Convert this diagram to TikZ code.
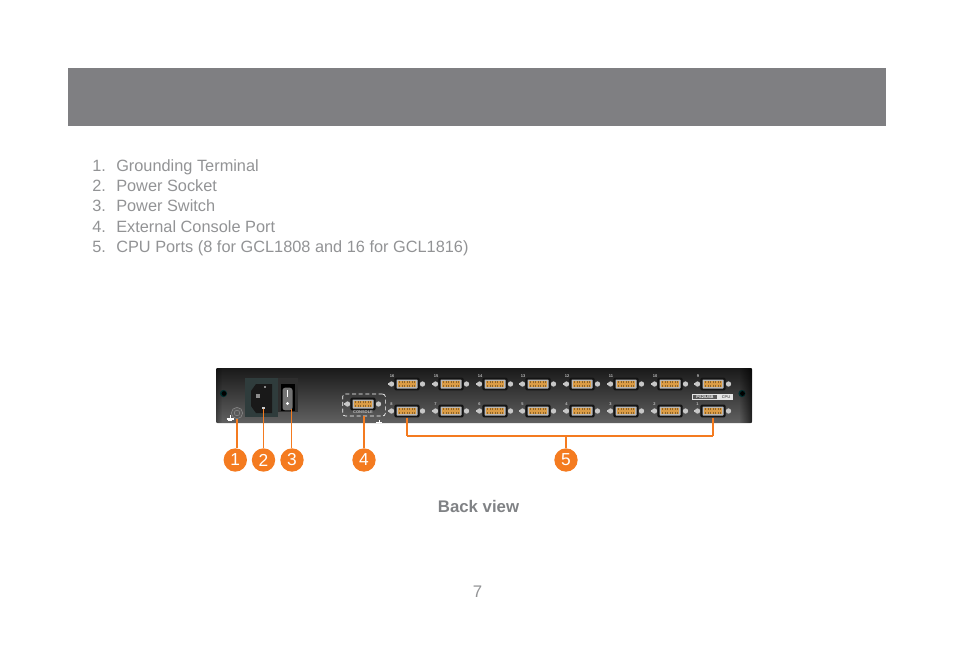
\documentclass[tikz,border=0pt]{standalone}
\usepackage{fontspec}
\setmainfont{Liberation Sans}
\usetikzlibrary{calc}

\definecolor{bandgray}{HTML}{7F7F82}
\definecolor{textgray}{HTML}{929395}
\definecolor{captiongray}{HTML}{808285}
\definecolor{calloutorange}{HTML}{F47B20}
\definecolor{pinorange}{HTML}{DB9C45}
\definecolor{pindark}{HTML}{8E6428}
\definecolor{sockettea}{HTML}{2F3C3C}

\tikzset{
	listitem/.style={anchor=base west, inner sep=0pt, text=textgray, font=\fontsize{12.25}{14}\selectfont},
	callout/.style={circle, fill=calloutorange, minimum size=17.5pt, inner sep=0pt, text=white, font=\fontsize{13}{14}\selectfont},
	thickline/.style={calloutorange, line width=1.4pt},
	thinline/.style={calloutorange, line width=0.8pt},
	portbody/.style={rectangle, rounded corners=1pt, fill=black!92, minimum width=19pt, minimum height=9.5pt, inner sep=0pt},
	tinylabel/.style={inner sep=0pt, text=white!75!black, font=\fontsize{3}{3}\selectfont\bfseries},
	screwlight/.style={circle, fill=black!22, minimum size=4pt, inner sep=0pt}
}

% Один разъём: имя узла, x, y
\newcommand{\vgaport}[3]{
	\node[portbody] (#1) at (#2,#3) {};
	\fill[black!28, rounded corners=0.5pt] (#2-10.5,#3-4.5) rectangle (#2+10.5,#3+4.5);
	\fill[pinorange] (#2-9,#3-3.4) rectangle (#2+9,#3+3.4);
	\foreach \dx in {-7.5,-5,...,7.5} {
		\fill[pindark] (#2+\dx-0.5,#3-2.6) rectangle (#2+\dx+0.5,#3-1.4);
		\fill[pindark] (#2+\dx-0.5,#3+1.4) rectangle (#2+\dx+0.5,#3+2.6);
	}
	\node[screwlight] at (#2-15.5,#3) {};
	\node[screwlight] at (#2+15.5,#3) {};
	\fill[black!22] (#2-19.5,#3-1) rectangle (#2-15.5,#3+1);
}

\begin{document}
\begin{tikzpicture}[x=0.75pt, y=-0.75pt]
	\useasboundingbox (0,0) rectangle (954,665);

	% Серая полоса заголовка
	\fill[bandgray] (68,68) rectangle (886,126);

	% Список
	\foreach \y/\n/\t in {171/1/Grounding Terminal, 191/2/Power Socket, 211/3/Power Switch, 232/4/External Console Port, 252/5/CPU Ports (8 for GCL1808 and 16 for GCL1816)} {
		\node[listitem] (num\n) at (92,\y) {\n.};
		\node[listitem] (item\n) at (116,\y) {\t};
	}

	% Задняя панель
	\shade[top color=black!90, bottom color=black!62, rounded corners=1pt] (216,368) rectangle (752,423);
	\foreach \i in {0,...,11} {
		\fill[black, opacity=0.6-0.05*\i] (752-\i-1,368) rectangle (752-\i,423);
	}
	\foreach \i in {0,...,5} {
		\fill[black, opacity=0.3-0.05*\i] (216+\i,368) rectangle (216+\i+1,423);
	}

	% Винты панели
	\foreach \x in {223.5,742} {
		\fill[black!35!teal!55!black] (\x,393.5) circle (3.6);
		\fill[black] (\x+0.5,393.5) circle (2.4);
	}

	% Клемма заземления
	\node[circle, draw=black!45, fill=black!65, minimum size=8.5pt, inner sep=0pt] (gnd) at (237,413) {};
	\draw[black!45, line width=0.4pt] (gnd) circle (2.8);
	\draw[white, line width=0.7pt] (230,415) -- (230,419);
	\draw[white, line width=0.9pt] (226.5,419) -- (233.5,419);
	\draw[white, line width=0.7pt] (228,420.5) -- (232,420.5);

	% Разъём питания
	\fill[sockettea] (245,378) rectangle (278,417);
	\fill[black!90] (256,384) -- (272,384) -- (272,413) -- (256,413) -- (251,406) -- (251,391) -- cycle;
	\fill[black!45] (263.5,385.5) rectangle (265.5,387.5);
	\fill[black!45] (256,393.5) rectangle (260,397.5);
	\node[inner sep=0pt, minimum width=2pt, minimum height=1pt, fill=white!80!black] (socketpin) at (263.5,408) {};

	% Выключатель
	\fill[black!82] (278,378) rectangle (298,412);
	\fill[black] (281,384) rectangle (295,411);
	\node[inner sep=0pt, minimum width=7.5pt, minimum height=17pt, rounded corners=2pt, fill=black!55] (switchbody) at (287.5,399) {};
	\fill[white] (287.2,390) rectangle (288,397);
	\fill[white] (287.5,403.5) circle (1.6);
	\coordinate (switchend) at (291.5,409);

	% Консольный порт
	\vgaport{console}{363}{404}
	\node[draw=white, densely dashed, line width=0.5pt, rounded corners=2pt, minimum width=32pt, minimum height=16.5pt, inner sep=0pt] (consolebox) at (364,405) {};
	\node[tinylabel] (consolelabel) at (363,412.5) {CONSOLE};
	\draw[white, line width=0.7pt] (379,420) -- (379,423);
	\draw[white, line width=0.9pt] (376,422.6) -- (382,422.6);

	% Порты CPU
	\foreach \x/\n in {407/16, 451/15, 495/14, 538/13, 582/12, 626/11, 670/10, 713/9} {
		\vgaport{port\n}{\x}{384}
		\node[tinylabel] (label\n) at (\x-15,376) {\n};
	}
	\foreach \x/\n in {407/8, 451/7, 495/6, 538/5, 582/4, 626/3, 670/2, 713/1} {
		\vgaport{port\n}{\x}{411}
		\node[tinylabel] (label\n) at (\x-15.5,404) {\n};
	}

	% Табличка
	\fill[white!90!black] (692,394) rectangle (733,400);
	\node[fill=black!65, inner sep=0pt, minimum width=18pt, minimum height=3.6pt, text=white, font=\fontsize{3}{3}\selectfont\bfseries] (tagusb) at (705,397) {PS2/USB};
	\node[inner sep=0pt, text=black!60, font=\fontsize{3}{3}\selectfont\bfseries] (tagcpu) at (726,397) {CPU};

	% Кружки с номерами
	\node[callout] (mark1) at (235.3,460) {1};
	\node[callout] (mark2) at (263.5,460) {2};
	\node[callout] (mark3) at (292,460) {3};
	\node[callout] (mark4) at (364,460) {4};
	\node[callout] (mark5) at (566,460) {5};

	% Выноски
	\draw[thickline] (gnd.south) -- (gnd.south |- mark1.north);
	\draw[thinline] (socketpin.south) -- (socketpin.south |- mark2.north);
	\draw[thinline] (switchend) -- (switchend |- mark3.north);
	\draw[thickline] (consolebox.south) -- (consolebox.south |- mark4.north);

	% Скобка к портам
	\coordinate (bracketleft) at (port8.south |- 0,436);
	\coordinate (bracketright) at (port1.south |- 0,436);
	\draw[thickline] (port8.south) -- (bracketleft);
	\draw[thickline] (port1.south) -- (bracketright);
	\draw[thinline] (bracketleft) -- (bracketright);
	\draw[thinline] (mark5.north) -- (mark5.north |- bracketleft);

	% Подписи
	\node[inner sep=0pt, text=captiongray, font=\fontsize{12.6}{14}\selectfont\bfseries] (caption) at (478.5,506.5) {Back view};
	\node[inner sep=0pt, text=textgray, font=\fontsize{12.6}{14}\selectfont] (pagenum) at (477.5,592) {7};
\end{tikzpicture}
\end{document}
